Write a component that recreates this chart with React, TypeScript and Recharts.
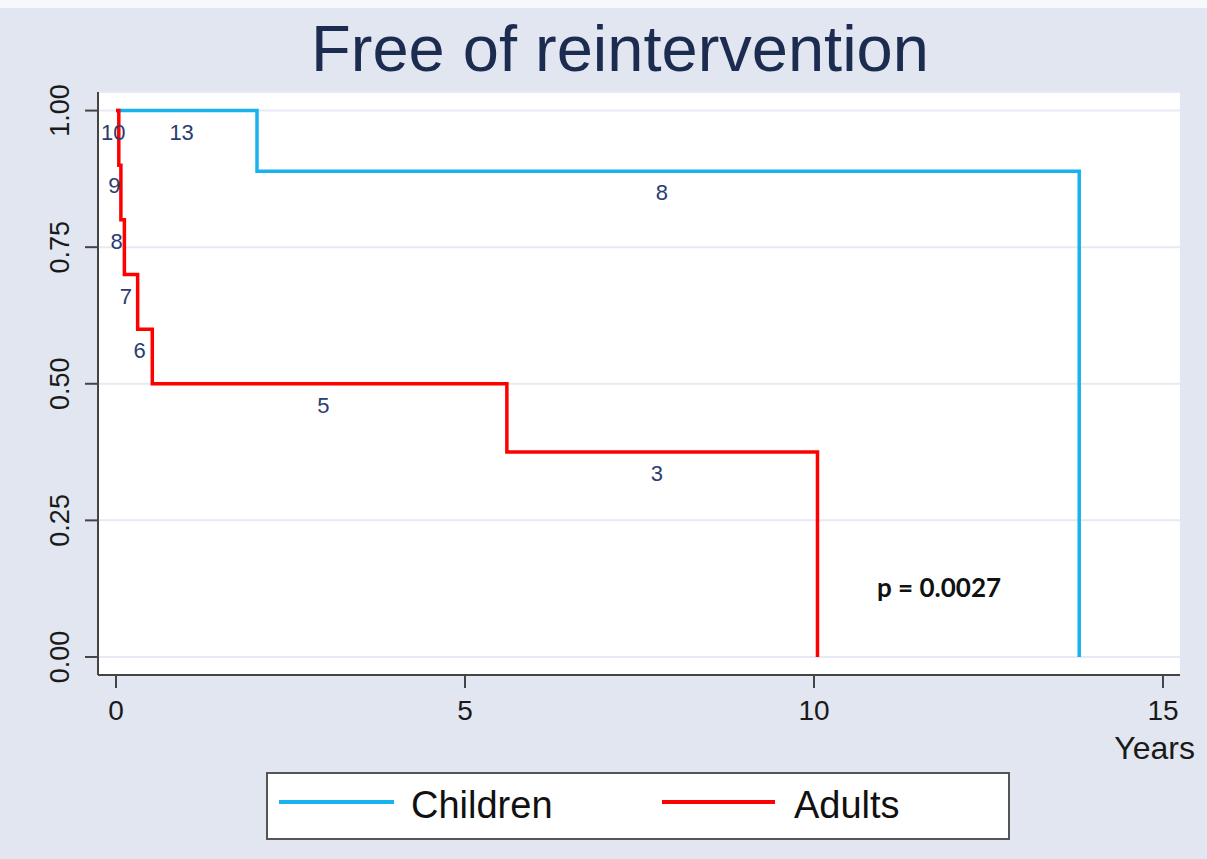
import { CartesianGrid, ComposedChart, Line, Scatter, XAxis, YAxis } from "recharts"

// Kaplan-Meier steps: time of event (years) and survival after it
const childTimes = [0, 2.02, 13.8]
const childSurv = [1, 0.889, 0]
const adultTimes = [0, 0.04, 0.07, 0.12, 0.31, 0.52, 5.6, 10.05]
const adultSurv = [1, 0.9, 0.8, 0.7, 0.6, 0.5, 0.375, 0]

// numbers at risk printed inside the plot
const riskLabels = ["10", "13", "9", "8", "7", "6", "5", "3", "8"]
const riskX = [-0.04, 0.94, -0.025, 0.01, 0.14, 0.34, 2.97, 7.75, 7.82]
const riskY = [0.959, 0.959, 0.862, 0.76, 0.66, 0.56, 0.461, 0.336, 0.85]

const xTicks = [0, 5, 10, 15]
const yTicks = [0, 0.25, 0.5, 0.75, 1]

const BG = "#e1e6f0"
const BLUE = "#18b2ef"
const RED = "#ff0000"
const NAVY = "#2a3d70"
const FONT = "'Liberation Sans', Arial, sans-serif"

const children = childTimes.map((t, i) => ({ t, s: childSurv[i] }))
const adults = adultTimes.map((t, i) => ({ t, s: adultSurv[i] }))
const risk = riskLabels.map((label, i) => ({ t: riskX[i], s: riskY[i], label }))

function YTick(p: any) {
  const x = p.x - 23
  return (
    <text
      x={x}
      y={p.y}
      transform={`rotate(-90 ${x} ${p.y})`}
      textAnchor="middle"
      dominantBaseline="central"
      fontSize={27}
      fontFamily={FONT}
      fill="#1a1a1a"
    >
      {Number(p.payload.value).toFixed(2)}
    </text>
  )
}

function RiskLabel(p: any) {
  return (
    <text
      x={p.cx}
      y={p.cy}
      textAnchor="middle"
      dominantBaseline="central"
      fontSize={22}
      fontFamily={FONT}
      fill={NAVY}
    >
      {p.payload.label}
    </text>
  )
}

export default function App() {
  return (
    <div style={{ position: "absolute", left: 0, top: 0, width: 1207, height: 859, background: BG, overflow: "hidden" }}>
      <div style={{ position: "absolute", left: 0, top: 0, width: 1207, height: 8, background: "#f7f8fb" }} />
      <ComposedChart width={1207} height={859} margin={{ top: 92, right: 27, bottom: 124, left: 0 }}>
        <CartesianGrid vertical={false} fill="#ffffff" stroke="#e6eaf3" strokeWidth={2} />
        <XAxis
          dataKey="t"
          type="number"
          domain={[-0.258, 15.244]}
          allowDataOverflow
          ticks={xTicks}
          height={60}
          tickSize={13}
          tickMargin={12}
          stroke="#444"
          strokeWidth={2}
          tick={{ fontSize: 28, fill: "#1a1a1a", fontFamily: FONT }}
        />
        <YAxis
          dataKey="s"
          type="number"
          domain={[-0.033, 1.034]}
          allowDataOverflow
          ticks={yTicks}
          width={98}
          tickSize={13}
          stroke="#444"
          strokeWidth={2}
          tick={YTick}
        />
        <Line data={children} dataKey="s" type="stepAfter" stroke={BLUE} strokeWidth={3.5} dot={false} isAnimationActive={false} />
        <Line data={adults} dataKey="s" type="stepAfter" stroke={RED} strokeWidth={3.5} dot={false} isAnimationActive={false} />
        <Scatter data={risk} dataKey="s" shape={RiskLabel} isAnimationActive={false} />
      </ComposedChart>

      <div
        style={{
          position: "absolute", left: 0, top: 16, width: 1240, textAlign: "center",
          fontSize: 65, lineHeight: 1, fontFamily: FONT, color: "#1c2b50",
        }}
      >
        Free of reintervention
      </div>

      <div
        style={{
          position: "absolute", right: 12, top: 732, fontSize: 32, lineHeight: 1,
          fontFamily: FONT, color: "#1a1a1a",
        }}
      >
        Years
      </div>

      <div
        style={{
          position: "absolute", left: 877, top: 574, fontSize: 26, lineHeight: 1,
          fontFamily: "Lato, sans-serif", fontWeight: 700, color: "#111", whiteSpace: "nowrap",
        }}
      >
        p = 0.0027
      </div>

      <div
        style={{
          position: "absolute", left: 266, top: 772, width: 744, height: 68, boxSizing: "border-box",
          background: "#fff", border: "2px solid #555",
        }}
      >
        <div style={{ position: "absolute", left: 11, top: 26, width: 115, height: 4, background: BLUE }} />
        <div style={{ position: "absolute", left: 143, top: 12, fontSize: 38, lineHeight: 1, fontFamily: FONT, color: "#111" }}>
          Children
        </div>
        <div style={{ position: "absolute", left: 394, top: 26, width: 113, height: 4, background: RED }} />
        <div style={{ position: "absolute", left: 526, top: 12, fontSize: 38, lineHeight: 1, fontFamily: FONT, color: "#111" }}>
          Adults
        </div>
      </div>
    </div>
  )
}
